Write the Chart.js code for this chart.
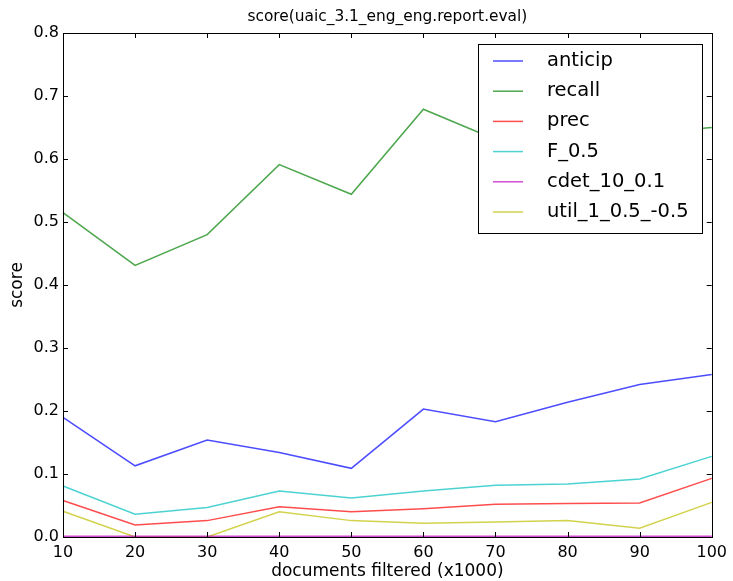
<!DOCTYPE html>
<html>
<head>
<meta charset="utf-8">
<script src="https://cdn.jsdelivr.net/npm/chart.js@4"></script>
<style>
    html, body { margin: 0; padding: 0; background: #fff; }
    #wrap { width: 733px; height: 581px; position: relative; }
</style>
</head>
<body>
<div id="wrap"><canvas id="scoreChart"></canvas></div>
<script>
// documents filtered (x1000)
const docsFiltered = [10, 20, 30, 40, 50, 60, 70, 80, 90, 100];

const anticip = [0.190, 0.113, 0.154, 0.134, 0.109, 0.203, 0.183, 0.214, 0.242, 0.258];
const recall  = [0.515, 0.431, 0.480, 0.591, 0.544, 0.679, 0.631, 0.635, 0.640, 0.650];
const prec    = [0.058, 0.019, 0.026, 0.048, 0.040, 0.045, 0.052, 0.053, 0.054, 0.093];
const f05     = [0.081, 0.036, 0.047, 0.073, 0.062, 0.073, 0.082, 0.084, 0.092, 0.128];
const cdet    = [0.001, 0.001, 0.001, 0.001, 0.001, 0.001, 0.001, 0.001, 0.001, 0.001];
const util    = [0.041, 0.000, 0.000, 0.040, 0.026, 0.022, 0.024, 0.026, 0.014, 0.055];

const seriesNames = ['anticip', 'recall', 'prec', 'F_0.5', 'cdet_10_0.1', 'util_1_0.5_-0.5'];
const seriesData = [anticip, recall, prec, f05, cdet, util];
const seriesColors = [
    'rgba(0, 0, 255, 0.7)',
    'rgba(0, 128, 0, 0.7)',
    'rgba(255, 0, 0, 0.7)',
    'rgba(0, 191, 191, 0.7)',
    'rgba(191, 0, 191, 0.7)',
    'rgba(191, 191, 0, 0.7)'
];

const FONT = "'DejaVu Sans', sans-serif";

// frame, inward ticks, title, axis labels and boxed legend (matplotlib look)
const mplDecor = {
    id: 'mplDecor',
    afterDatasetsDraw(chart) {
        const { ctx, chartArea: a, scales } = chart;
        ctx.save();
        ctx.strokeStyle = '#000';
        ctx.lineWidth = 1;
        ctx.strokeRect(Math.round(a.left) + 0.5, Math.round(a.top) + 0.5,
            Math.round(a.right - a.left), Math.round(a.bottom - a.top));

        // inward ticks on all four sides
        const tl = 5;
        ctx.beginPath();
        scales.x.ticks.forEach(t => {
            const px = Math.round(scales.x.getPixelForValue(t.value)) + 0.5;
            ctx.moveTo(px, a.bottom); ctx.lineTo(px, a.bottom - tl);
            ctx.moveTo(px, a.top); ctx.lineTo(px, a.top + tl);
        });
        scales.y.ticks.forEach(t => {
            const py = Math.round(scales.y.getPixelForValue(t.value)) + 0.5;
            ctx.moveTo(a.left, py); ctx.lineTo(a.left + tl, py);
            ctx.moveTo(a.right, py); ctx.lineTo(a.right - tl, py);
        });
        ctx.stroke();

        // title
        ctx.fillStyle = '#000';
        ctx.textAlign = 'center';
        ctx.textBaseline = 'alphabetic';
        ctx.font = `15.4px ${FONT}`;
        ctx.fillText('score(uaic_3.1_eng_eng.report.eval)', (a.left + a.right) / 2, 21);

        // axis labels
        ctx.font = `17px ${FONT}`;
        ctx.textBaseline = 'middle';
        ctx.fillText('documents filtered (x1000)', (a.left + a.right) / 2, 572);
        ctx.save();
        ctx.translate(18, (a.top + a.bottom) / 2);
        ctx.rotate(-Math.PI / 2);
        ctx.fillText('score', 0, 0);
        ctx.restore();

        // legend
        const lx = 478, ly = 44, lw = 224, lh = 189;
        ctx.fillStyle = '#fff';
        ctx.fillRect(lx, ly, lw, lh);
        ctx.strokeStyle = '#000';
        ctx.strokeRect(lx + 0.5, ly + 0.5, lw, lh);
        ctx.font = `19.5px ${FONT}`;
        ctx.textAlign = 'left';
        ctx.textBaseline = 'middle';
        chart.data.datasets.forEach((ds, i) => {
            const y = 61 + i * 30.2;
            ctx.strokeStyle = ds.borderColor;
            ctx.lineWidth = 1.5;
            ctx.beginPath();
            ctx.moveTo(493, y); ctx.lineTo(523, y);
            ctx.stroke();
            ctx.fillStyle = '#000';
            ctx.fillText(ds.label, 547, y);
        });
        ctx.restore();
    }
};

new Chart(document.getElementById('scoreChart'), {
    type: 'line',
    data: {
        datasets: seriesNames.map((name, i) => ({
            label: name,
            data: docsFiltered.map((x, j) => ({ x, y: seriesData[i][j] })),
            borderColor: seriesColors[i],
            backgroundColor: seriesColors[i],
            borderWidth: 1.5,
            pointRadius: 0,
            tension: 0,
            fill: false,
            clip: false
        }))
    },
    options: {
        responsive: true,
        maintainAspectRatio: false,
        animation: false,
        layout: { padding: { top: 33, right: 20, left: 0, bottom: 0 } },
        plugins: {
            legend: { display: false },
            title: { display: false },
            tooltip: { enabled: false }
        },
        scales: {
            x: {
                type: 'linear',
                min: 10,
                max: 100,
                afterFit: s => { s.height = 44; },
                ticks: {
                    stepSize: 10,
                    color: '#000',
                    padding: 6,
                    maxRotation: 0,
                    font: { family: FONT, size: 16 }
                },
                grid: { display: false, drawTicks: false },
                border: { display: false }
            },
            y: {
                min: 0,
                max: 0.8,
                afterFit: s => { s.width = 63; },
                ticks: {
                    stepSize: 0.1,
                    color: '#000',
                    padding: 4,
                    font: { family: FONT, size: 16 },
                    callback: v => v.toFixed(1)
                },
                grid: { display: false, drawTicks: false },
                border: { display: false }
            }
        }
    },
    plugins: [mplDecor]
});
</script>
</body>
</html>
